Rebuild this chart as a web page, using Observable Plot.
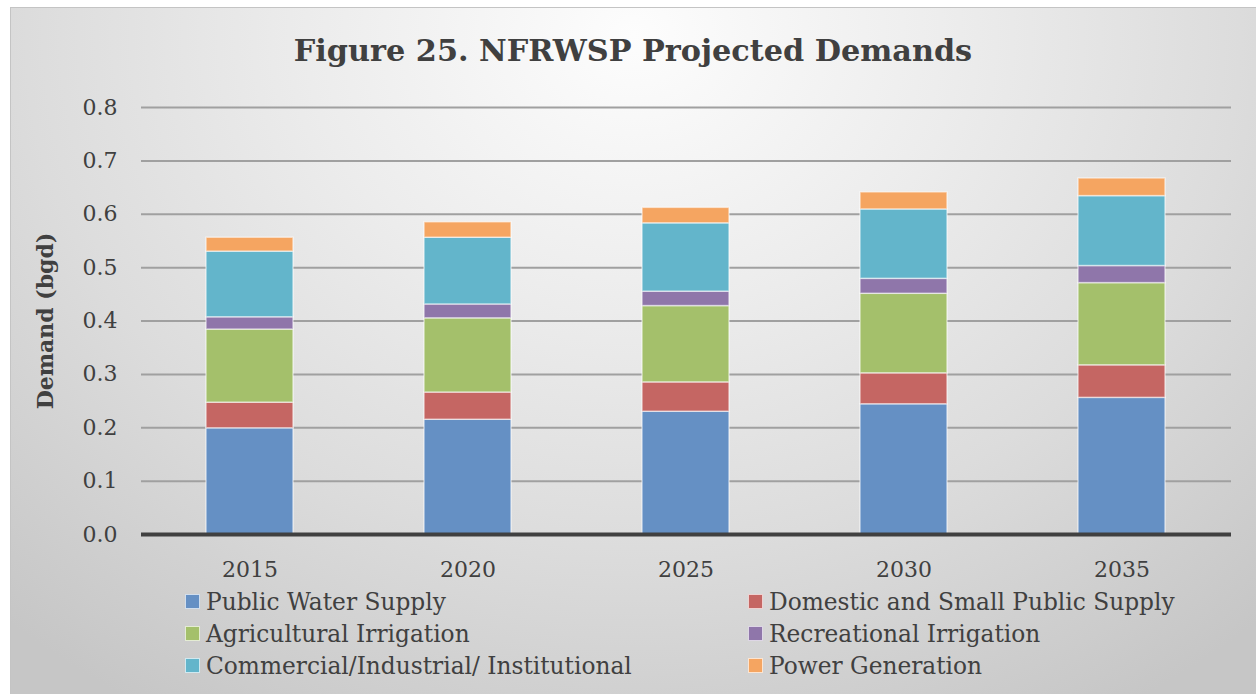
<!DOCTYPE html>
<html>
<head>
<meta charset="utf-8">
<script src="https://cdn.jsdelivr.net/npm/d3@7"></script>
<script src="https://cdn.jsdelivr.net/npm/@observablehq/plot@0.6"></script>
<style>
  html, body { margin: 0; padding: 0; background: #ffffff; }
  body { width: 1256px; height: 694px; position: relative; overflow: hidden; font-family: "DejaVu Serif", serif; }
  #frame {
    position: absolute; left: 10px; top: 7px; width: 1246px; height: 687px;
    background: radial-gradient(ellipse 75% 115% at 50% 4%, #fdfdfd 0%, #ececec 35%, #dcdcdc 65%, #c6c6c6 100%);
    border-top: 1px solid #c4c4c4; border-left: 1px solid #c4c4c4; box-sizing: border-box;
  }
  #title {
    position: absolute; left: 10px; top: 33px; width: 1246px; text-align: center;
    font-family: "DejaVu Serif", serif; font-weight: bold; font-size: 30.3px; color: #404040;
  }
  #chart { position: absolute; left: 0; top: 0; }
  #legend {
    position: absolute; left: 185px; top: 588px; width: 1060px;
    display: grid; grid-template-columns: 563px 480px; row-gap: 4.5px;
    font-family: "DejaVu Serif", serif; font-size: 23.3px; color: #404040;
  }
  .item { display: flex; align-items: center; height: 27.5px; white-space: nowrap; }
  .sw { width: 13px; height: 13px; margin-right: 6px; border: 1px solid rgba(255,255,255,0.7); }
</style>
</head>
<body>
<div id="frame"></div>
<div id="title">Figure 25. NFRWSP Projected Demands</div>
<div id="chart"></div>
<div id="legend"></div>
<script>
const years = ["2015", "2020", "2025", "2030", "2035"];
const categories = [
  "Public Water Supply",
  "Domestic and Small Public Supply",
  "Agricultural Irrigation",
  "Recreational Irrigation",
  "Commercial/Industrial/ Institutional",
  "Power Generation"
];
const publicWater  = [0.199, 0.215, 0.230, 0.244, 0.256];
const domestic     = [0.048, 0.051, 0.055, 0.058, 0.061];
const agricultural = [0.137, 0.139, 0.143, 0.149, 0.154];
const recreational = [0.023, 0.026, 0.027, 0.028, 0.032];
const commercial   = [0.123, 0.125, 0.128, 0.130, 0.131];
const power        = [0.026, 0.029, 0.029, 0.032, 0.033];
const yTicks = [0, 0.1, 0.2, 0.3, 0.4, 0.5, 0.6, 0.7, 0.8];
const colors = ["#6590c4", "#c56663", "#a4c06b", "#8f76aa", "#63b5cb", "#f5a561"];

const series = [publicWater, domestic, agricultural, recreational, commercial, power];
const data = [];
years.forEach((yr, i) => {
  categories.forEach((c, j) => data.push({year: yr, category: c, value: series[j][i]}));
});

const plot = Plot.plot({
  width: 1256,
  height: 600,
  marginLeft: 141,
  marginRight: 25,
  marginTop: 107,
  marginBottom: 66,
  style: { background: "transparent", fontFamily: "DejaVu Serif, serif", fontSize: "22px", color: "#404040" },
  x: { domain: years, paddingInner: 0.6, paddingOuter: 0.3, label: null, tickSize: 0 },
  y: { domain: [0, 0.8], ticks: yTicks, tickFormat: d3.format(".1f"), tickSize: 0, label: null },
  color: { domain: categories, range: colors },
  marks: [
    Plot.gridY(yTicks.slice(1), { stroke: "#a0a0a0", strokeWidth: 2, strokeOpacity: 1 }),
    Plot.barY(data, { x: "year", y: "value", fill: "category", stroke: "#ffffff", strokeOpacity: 0.55, strokeWidth: 1.5 }),
    Plot.ruleY([0], { stroke: "#404040", strokeWidth: 4 }),
    Plot.axisY({ ticks: yTicks, tickFormat: d3.format(".1f"), tickSize: 0, tickPadding: 24, label: null, fill: "#404040" }),
    Plot.axisX({ tickSize: 0, tickPadding: 27, label: null, fill: "#404040" }),
    Plot.text(["Demand (bgd)"], { frameAnchor: "left", textAnchor: "middle", dx: -96, rotate: -90, fontWeight: "bold", fontSize: 22, fill: "#404040" })
  ]
});
document.getElementById("chart").appendChild(plot);

const legend = document.getElementById("legend");
categories.forEach((name, k) => {
  const item = document.createElement("div");
  item.className = "item";
  const sw = document.createElement("span");
  sw.className = "sw";
  sw.style.background = colors[k];
  const t = document.createElement("span");
  t.textContent = name;
  item.appendChild(sw);
  item.appendChild(t);
  legend.appendChild(item);
});
</script>
</body>
</html>
